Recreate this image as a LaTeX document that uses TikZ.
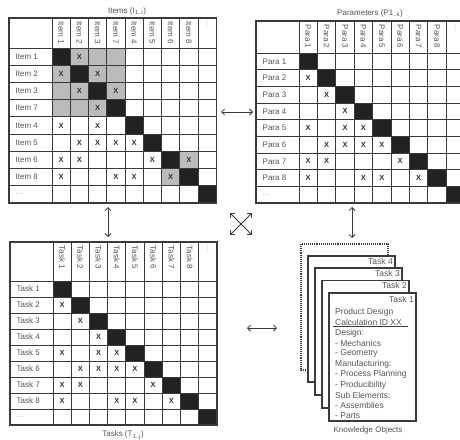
\documentclass[tikz,border=0pt]{standalone}
\usepackage{fontspec}
\setmainfont{Liberation Sans}
\usetikzlibrary{arrows.meta}
\definecolor{txt}{HTML}{555555}
\definecolor{gridc}{HTML}{3A3A3A}
\definecolor{diagc}{HTML}{222222}
\definecolor{hlc}{HTML}{BBBBBB}
\definecolor{dotc}{HTML}{AAAAAA}

\newcommand\setmat[6]{\def\mx{#1}\def\my{#2}\def\mlw{#3}\def\mhh{#4}\def\mcw{#5}\def\mrh{#6}}
\newcommand\cellfill[3]{\fill[#3] ({\mx+\mlw+(#2-1)*\mcw},{\my+\mhh+(#1-1)*\mrh}) rectangle ++(\mcw,\mrh);}
\newcommand\cellx[2]{\node[xmark] at ({\mx+\mlw+(#2-0.5)*\mcw},{\my+\mhh+(#1-0.5)*\mrh}) {X};}
\newcommand\matgrid[2]{%
  \foreach \i in {1,...,9}{\cellfill{\i}{\i}{diagc}}
  \foreach \c in {0,...,8}{\draw[gridl] ({\mx+\mlw+\c*\mcw},\my) -- ++(0,{\mhh+9*\mrh});}
  \foreach \r in {0,...,8}{\draw[gridl] (\mx,{\my+\mhh+\r*\mrh}) -- ++({\mlw+9*\mcw},0);}
  \draw[frame] (\mx,\my) rectangle ++({\mlw+9*\mcw},{\mhh+9*\mrh});
  \foreach \l [count=\i] in {#1}{
     \node[rowlab] (#2-r\i) at ({\mx+6.5},{\my+\mhh+(\i-0.5)*\mrh}) {\l};
     \node[collab] (#2-c\i) at ({\mx+\mlw+(\i-0.5)*\mcw},{\my+3.5}) {\l};
  }
  \node[rowlab,text=dotc] (#2-r9) at ({\mx+6.5},{\my+\mhh+8.5*\mrh}) {...};
  \node[collab,text=dotc] (#2-c9) at ({\mx+\mlw+8.5*\mcw},{\my+3.5}) {...};
}

\tikzset{
  gridl/.style={draw=gridc, line width=0.9pt},
  frame/.style={draw=gridc, line width=1.3pt},
  rowlab/.style={anchor=west, inner sep=0pt, text=txt, font=\fontsize{8}{9.6}\selectfont},
  collab/.style={rotate=-90, anchor=west, inner sep=0pt, text=txt, font=\fontsize{8}{9.6}\selectfont},
  xmark/.style={inner sep=0pt, text=black!80, font=\fontsize{7.5}{9}\selectfont\bfseries},
  title/.style={inner sep=0pt, text=txt, font=\fontsize{8}{9.6}\selectfont},
  page/.style={draw=gridc, line width=1.1pt, fill=white},
  pagelab/.style={anchor=north east, inner sep=0pt, text=txt, font=\fontsize{8.5}{10}\selectfont},
  kotext/.style={anchor=west, inner sep=0pt, text=txt, font=\fontsize{8.5}{10}\selectfont},
  dbl/.style={{Straight Barb[length=3pt,width=6pt]}-{Straight Barb[length=3pt,width=6pt]}, draw=gridc, line width=0.8pt},
}

\begin{document}
\begin{tikzpicture}[x=1pt,y=-1pt]
\useasboundingbox (0,0) rectangle (460,439);
\fill[white] (0,0) rectangle (460,439);
\begin{scope}
\clip (0,0) rectangle (460,439);

% ---------- Items matrix ----------
\setmat{9}{18}{43}{30}{18.25}{17.22}
\foreach \r/\c in {1/2,1/3,1/4,2/1,2/3,2/4,3/1,3/2,3/4,4/1,4/2,4/3,7/8,8/7}{\cellfill{\r}{\c}{hlc}}
\matgrid{Item 1,Item 2,Item 3,Item 7,Item 4,Item 5,Item 6,Item 8}{it}
\foreach \r/\c in {1/2,2/1,2/3,3/2,3/4,4/3,5/1,5/3,6/2,6/3,6/4,6/5,7/1,7/2,7/6,7/8,8/1,8/4,8/5,8/7}{\cellx{\r}{\c}}
\node[title] (items) at (127,11) {Items (I\textsubscript{1..i})};

% ---------- Parameters matrix ----------
\setmat{256}{21}{43}{32}{18.4}{16.67}
\matgrid{Para 1,Para 2,Para 3,Para 4,Para 5,Para 6,Para 7,Para 8}{pa}
\foreach \r/\c in {2/1,3/2,4/3,5/1,5/3,5/4,6/2,6/3,6/4,6/5,7/1,7/2,7/6,8/1,8/4,8/5,8/7}{\cellx{\r}{\c}}
\node[title] (params) at (370,13) {Parameters (P1\textsubscript{..k})};

% ---------- Tasks matrix ----------
\setmat{10}{242}{43}{39}{18.22}{16}
\matgrid{Task 1,Task 2,Task 3,Task 4,Task 5,Task 6,Task 7,Task 8}{ta}
\foreach \r/\c in {2/1,3/2,4/3,5/1,5/3,5/4,6/2,6/3,6/4,6/5,7/1,7/2,7/6,8/1,8/4,8/5,8/7}{\cellx{\r}{\c}}
\node[title] (tasks) at (123,435) {Tasks (T\textsubscript{1..j})};

% ---------- Knowledge objects ----------
\draw[page, densely dotted] (301,244) rectangle (388,370);
\draw[page] (308,256) rectangle (395,382);
\node[pagelab] (t4) at (393,258) {Task 4};
\draw[page] (315,268) rectangle (402,395);
\node[pagelab] (t3) at (400,270) {Task 3};
\draw[page] (322,280.5) rectangle (409,408);
\node[pagelab] (t2) at (407,282.5) {Task 2};
\draw[page] (329,293) rectangle (416,421);
\node[pagelab] (t1) at (414,296) {Task 1};
\foreach \l [count=\i] in {Product Design,Calculation ID XX,Design:,- Mechanics,- Geometry,Manufacturing:,- Process Planning,- Producibility,Sub Elements:,- Assemblies,- Parts}{
  \node[kotext] (ko\i) at (335,{312+(\i-1)*10.4}) {\l};
}
\coordinate (ulA) at (333,326.5);
\coordinate (ulB) at (408,326.5);
\draw[draw=gridc, line width=1.4pt] (ulA) -- (ulB);
\node[title] (kolab) at (368,430) {Knowledge Objects};

% ---------- arrows ----------
\coordinate (h1a) at (221,112); \coordinate (h1b) at (253,112);
\coordinate (v1a) at (108,207); \coordinate (v1b) at (108,237);
\coordinate (v2a) at (352,207); \coordinate (v2b) at (352,238);
\coordinate (h2a) at (247,328); \coordinate (h2b) at (277,328);
\coordinate (d1a) at (230,213); \coordinate (d1b) at (252,235);
\coordinate (d2a) at (252,213); \coordinate (d2b) at (230,235);
\draw[dbl] (h1a) -- (h1b);
\draw[dbl] (v1a) -- (v1b);
\draw[dbl] (v2a) -- (v2b);
\draw[dbl] (h2a) -- (h2b);
\draw[dbl] (d1a) -- (d1b);
\draw[dbl] (d2a) -- (d2b);
\end{scope}
\end{tikzpicture}
\end{document}
